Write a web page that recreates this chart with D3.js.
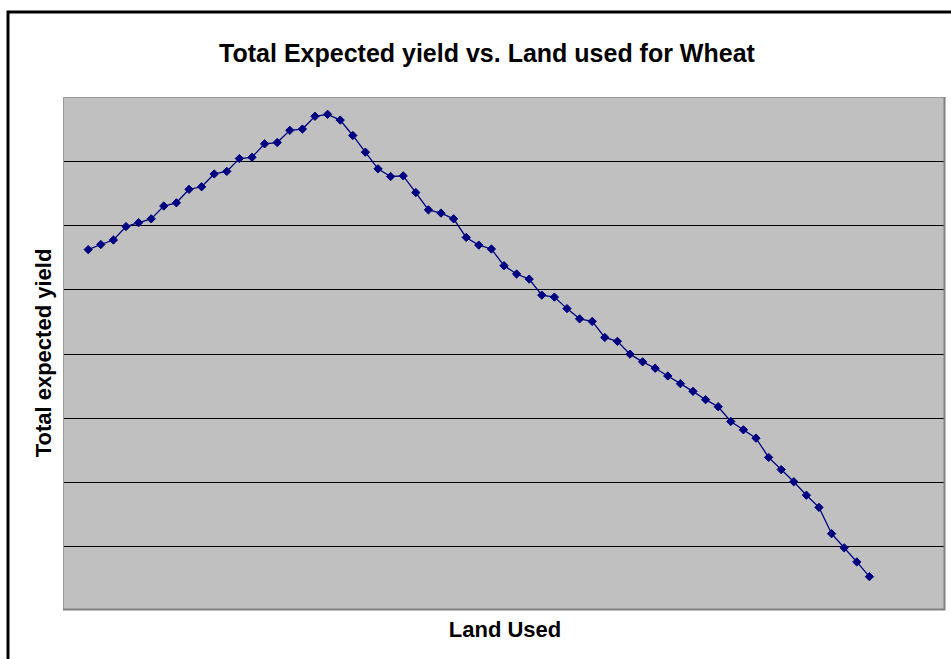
<!DOCTYPE html>
<html>
<head>
<meta charset="utf-8">
<script src="https://cdn.jsdelivr.net/npm/d3@7"></script>
<style>
  html, body { margin: 0; padding: 0; background: #fff; overflow: hidden; }
  svg { display: block; font-family: "Liberation Sans", Arial, sans-serif; }
</style>
</head>
<body>
<div id="chart"></div>
<script>
// land used (category index) and total expected yield
const landUsed = d3.range(2, 65);
const yieldValues = [
  56.2, 57.0, 57.7, 59.8, 60.4, 61.0, 63.0, 63.5, 65.6, 66.0,
  68.0, 68.4, 70.4, 70.6, 72.7, 72.9, 74.8, 75.0, 77.0, 77.3,
  76.4, 74.0, 71.4, 68.8, 67.6, 67.7, 65.1, 62.4, 61.9, 61.0,
  58.1, 56.9, 56.3, 53.7, 52.4, 51.6, 49.1, 48.8, 47.0, 45.4,
  45.0, 42.5, 41.9, 39.9, 38.7, 37.7, 36.5, 35.3, 34.1, 32.8,
  31.7, 29.4, 28.1, 26.8, 23.8, 21.9, 20.0, 17.9, 16.0, 11.9,
  9.7, 7.5, 5.2
];
const yTicks = [10, 20, 30, 40, 50, 60, 70];

const data = landUsed.map((x, i) => ({ x, y: yieldValues[i] }));

const W = 951, H = 659;
const margin = { top: 97, right: 6, bottom: 49, left: 63 };
const iW = W - margin.left - margin.right;
const iH = H - margin.top - margin.bottom;

const svg = d3.select('#chart').append('svg').attr('width', W).attr('height', H);

// outer chart border
svg.append('rect')
  .attr('x', 8).attr('y', 12).attr('width', W + 20).attr('height', H + 20)
  .attr('fill', '#fff').attr('stroke', '#000').attr('stroke-width', 3);

svg.append('text')
  .attr('x', 487).attr('y', 62)
  .attr('text-anchor', 'middle').attr('font-weight', 'bold').attr('font-size', '25px')
  .text('Total Expected yield vs. Land used for Wheat');

const g = svg.append('g').attr('transform', `translate(${margin.left},${margin.top})`);

const x = d3.scaleLinear().domain([0, 70]).range([0, iW]);
const y = d3.scaleLinear().domain([0, 80]).range([iH, 0]);

g.append('rect')
  .attr('width', iW).attr('height', iH)
  .attr('fill', '#c0c0c0');

g.selectAll('.grid').data(yTicks).join('line')
  .attr('class', 'grid')
  .attr('x1', 0).attr('x2', iW)
  .attr('y1', d => Math.round(y(d)) + 0.5).attr('y2', d => Math.round(y(d)) + 0.5)
  .attr('stroke', '#000').attr('stroke-width', 1);

// plot frame: light top/left, darker right/bottom
g.append('path')
  .attr('d', `M0.5,${iH} V0.5 H${iW}`)
  .attr('fill', 'none').attr('stroke', '#9a9a9a').attr('stroke-width', 1);
g.append('path')
  .attr('d', `M${iW - 0.5},0 V${iH - 0.5} H0`)
  .attr('fill', 'none').attr('stroke', '#808080').attr('stroke-width', 2);

g.append('path').datum(data)
  .attr('fill', 'none').attr('stroke', '#000080').attr('stroke-width', 1.3)
  .attr('d', d3.line().x(d => x(d.x)).y(d => y(d.y)));

g.selectAll('.pt').data(data).join('path')
  .attr('class', 'pt')
  .attr('transform', d => `translate(${x(d.x)},${y(d.y)})`)
  .attr('d', d3.symbol(d3.symbolDiamond2, 44)())
  .attr('fill', '#000080').attr('stroke', '#000080').attr('stroke-width', 1);

svg.append('text')
  .attr('x', 505).attr('y', 637)
  .attr('text-anchor', 'middle').attr('font-weight', 'bold').attr('font-size', '22px')
  .text('Land Used');

svg.append('text')
  .attr('transform', 'translate(51,353) rotate(-90)')
  .attr('text-anchor', 'middle').attr('font-weight', 'bold').attr('font-size', '22px')
  .text('Total expected yield');
</script>
</body>
</html>
